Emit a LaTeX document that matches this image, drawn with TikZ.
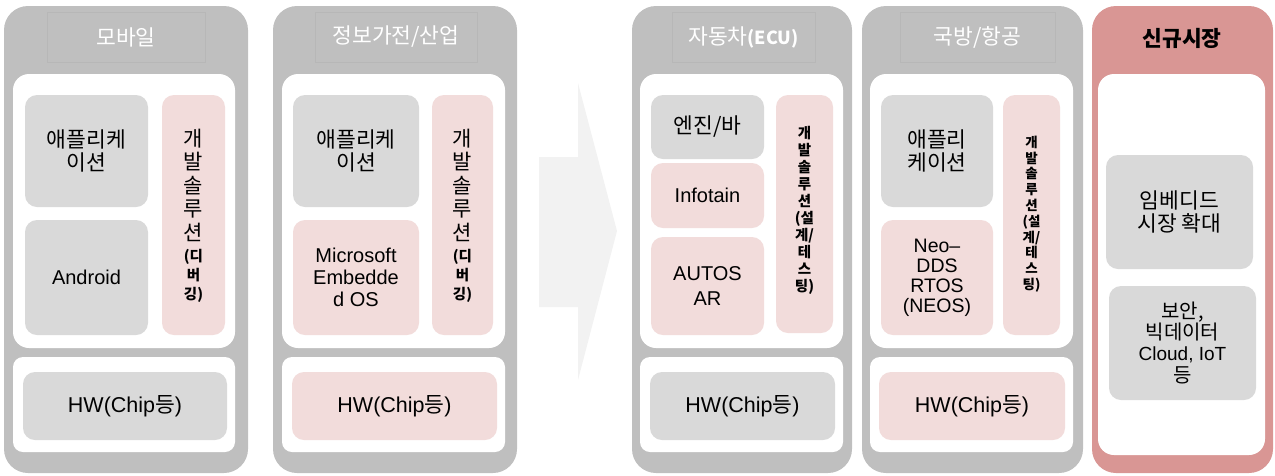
\documentclass[tikz,border=0pt]{standalone}
\usepackage{fontspec}
\setmainfont{Noto Sans CJK KR}
\newfontfamily\lat{Liberation Sans}
\usepackage{xcolor}
\usetikzlibrary{arrows.meta}
\definecolor{panelgray}{HTML}{BFBFBF}
\definecolor{boxgray}{HTML}{D9D9D9}
\definecolor{boxpink}{HTML}{F2DCDB}
\definecolor{marketred}{HTML}{D99694}
\definecolor{arrowgray}{HTML}{F2F2F2}
\definecolor{titleline}{HTML}{B7B7B7}

\begin{document}
\begin{tikzpicture}[x=1pt, y=-1pt,
    panel/.style={fill=panelgray, rounded corners=24pt},
    layer/.style={fill=white, rounded corners=16pt},
    hwlayer/.style={fill=white, rounded corners=10pt},
    titlebox/.style={draw=titleline, line width=0.4pt, inner sep=0pt, text=white,
        font=\fontsize{21.5}{23}\selectfont},
    graybox/.style={fill=boxgray, rounded corners=12pt, inner sep=0pt, align=center,
        font=\fontsize{21.5}{23}\selectfont},
    pinkbox/.style={graybox, fill=boxpink},
    latin/.style={font=\lat\fontsize{20}{22}\selectfont},
    vtext/.style={inner sep=0pt, align=center, font=\fontsize{21}{23.5}\selectfont},
    vsmall/.style={inner sep=0pt, align=center, font=\fontsize{14.5}{19}\selectfont\bfseries},
    vtight/.style={inner sep=0pt, align=center, font=\fontsize{14.5}{17}\selectfont\bfseries}]
    \useasboundingbox (0,0) rectangle (1275,475);

    % Mobile
    \fill[panel] (4,6) rectangle (248,473);
    \node[titlebox, minimum width=158pt, minimum height=50pt] (t1) at (126,37) {모바일};
    \fill[layer] (13,74) rectangle (235,348);
    \fill[hwlayer] (13,357) rectangle (235,452);
    \node[graybox, minimum width=123pt, minimum height=112pt] (app1) at (86.5,151) {애플리케\\이션};
    \node[graybox, latin, minimum width=123pt, minimum height=115pt] (and1) at (86.5,277.5) {Android};
    \node[pinkbox, minimum width=63pt, minimum height=240pt] (dev1) at (193.5,215) {};
    \node[vtext] (dev1a) at (193.5,185) {개\\발\\솔\\루\\션};
    \node[vsmall] (dev1b) at (193.5,276) {(디\\버\\깅)};
    \node[graybox, minimum width=204pt, minimum height=68pt] (hw1) at (125,406) {{\lat HW(Chip}등{\lat )}};

    % Home appliance / industry
    \fill[panel] (273,6) rectangle (517,473);
    \node[titlebox, minimum width=162pt, minimum height=50pt] (t2) at (396,37) {정보가전/산업};
    \fill[layer] (282,74) rectangle (505,348);
    \fill[hwlayer] (282,357) rectangle (505,452);
    \node[graybox, minimum width=126pt, minimum height=112pt] (app2) at (356,151) {애플리케\\이션};
    \node[pinkbox, latin, minimum width=126pt, minimum height=115pt] (ms2) at (356,277.5) {Microsoft\\Embedde\\d OS};
    \node[pinkbox, minimum width=61pt, minimum height=240pt] (dev2) at (462.5,215) {};
    \node[vtext] (dev2a) at (462.5,185) {개\\발\\솔\\루\\션};
    \node[vsmall] (dev2b) at (462.5,276) {(디\\버\\깅)};
    \node[pinkbox, minimum width=205pt, minimum height=68pt] (hw2) at (394.5,406) {{\lat HW(Chip}등{\lat )}};

    % Shift arrow
    \fill[arrowgray] (539,157) -- (578,157) -- (578,83) -- (617,231)
        -- (578,380) -- (578,307) -- (539,307) -- cycle;

    % Automotive
    \fill[panel] (632,6) rectangle (852,473);
    \node[titlebox, minimum width=143pt, minimum height=50pt] (t3) at (743.5,37) {자동차{\bfseries\fontsize{18}{20}\selectfont(ECU)}};
    \fill[layer] (640,74) rectangle (843,348);
    \fill[hwlayer] (640,357) rectangle (843,452);
    \node[graybox, minimum width=113pt, minimum height=64pt] (eng3) at (707.5,127) {엔진/바};
    \node[pinkbox, latin, minimum width=113pt, minimum height=65pt] (info3) at (707.5,195.5) {Infotain};
    \node[pinkbox, latin, font=\lat\fontsize{20}{25}\selectfont, minimum width=113pt, minimum height=98pt] (auto3) at (707.5,286) {AUTOS\\AR};
    \node[pinkbox, minimum width=57pt, minimum height=238pt] (dev3) at (804.5,214) {};
    \node[vtight] (dev3a) at (804.5,210) {개\\발\\솔\\루\\션\\(설\\계/\\테\\스\\팅)};
    \node[graybox, minimum width=185pt, minimum height=68pt] (hw3) at (742.5,406) {{\lat HW(Chip}등{\lat )}};

    % Defense / aerospace
    \fill[panel] (862,6) rectangle (1083,473);
    \node[titlebox, minimum width=155pt, minimum height=50pt] (t4) at (977.5,37) {국방/항공};
    \fill[layer] (870,74) rectangle (1073,348);
    \fill[hwlayer] (870,357) rectangle (1073,452);
    \node[graybox, minimum width=112pt, minimum height=112pt] (app4) at (937,151) {애플리\\케이션};
    \node[pinkbox, font=\lat\fontsize{19.5}{20}\selectfont, minimum width=112pt, minimum height=115pt] (neo4) at (937,277.5) {Neo–\\DDS\\RTOS\\(NEOS)};
    \node[pinkbox, minimum width=57pt, minimum height=240pt] (dev4) at (1031.5,215) {};
    \node[vtight, font=\fontsize{13.5}{15.8}\selectfont\bfseries] (dev4a) at (1031.5,214) {개\\발\\솔\\루\\션\\(설\\계/\\테\\스\\팅)};
    \node[pinkbox, minimum width=186pt, minimum height=68pt] (hw4) at (972,406) {{\lat HW(Chip}등{\lat )}};

    % New market
    \fill[panel, fill=marketred] (1092,6) rectangle (1273,473);
    \node[inner sep=0pt, font=\fontsize{21.5}{23}\selectfont\bfseries] (t5) at (1182,38) {신규시장};
    \fill[layer] (1098,74) rectangle (1265,455);
    \node[graybox, minimum width=147pt, minimum height=114pt] (emb5) at (1179.5,212) {임베디드\\시장 확대};
    \node[graybox, font=\fontsize{20}{21}\selectfont, minimum width=147pt, minimum height=114pt] (sec5) at (1182.5,343) {보안,\\빅데이터\\{\lat\fontsize{19}{21}\selectfont Cloud, IoT}\\[1pt]등};
\end{tikzpicture}
\end{document}
